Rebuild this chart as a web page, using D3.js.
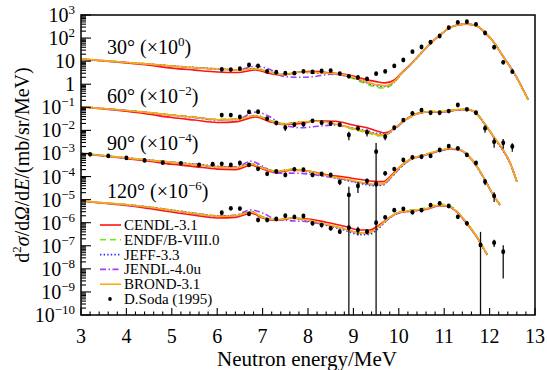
<!DOCTYPE html>
<html>
<head>
<meta charset="utf-8">
<script src="https://cdn.jsdelivr.net/npm/d3@7"></script>
<style>
body { margin: 0; background: #fff; }
svg text { font-family: "Liberation Serif", "DejaVu Serif", Times, serif; fill: #000; }
</style>
</head>
<body>
<svg id="canvas" width="547" height="370" font-family="Liberation Serif, DejaVu Serif, serif"></svg>
<script>
// evaluated libraries (curves), values already multiplied by the angle scale factor
let libNames = ['CENDL-3.1', 'ENDF/B-VIII.0', 'JEFF-3.3', 'JENDL-4.0u', 'BROND-3.1']

let e30 = [3.0,3.5,4.0,4.5,5.0,5.5,6.0,6.45,6.85,7.15,7.45,7.85,8.1,8.5,8.9,9.2,9.5,9.7,9.9,10.05,10.25,10.47,10.69,10.91,11.1,11.3,11.5,11.72,11.9,12.08,12.3,12.52,12.85]
let cendl30 = [12.2,10.2,8.3,6.6,5.0,4.1,3.4,3.2,4.2,2.9,2.5,3.5,3.6,3.1,2.5,1.75,1.3,1.15,1.55,3.0,7.0,20,57,135,262,368,402,333,172,71,16,3.6,0.22]
let endf30 = [12.6,10.6,8.9,7.5,6.2,5.3,4.7,4.2,4.7,3.4,2.7,3.4,3.3,2.9,2.1,1.2,0.75,0.68,1.2,2.7,6.6,19.5,57,134,262,368,405,336,174,72,16,3.6,0.21]
let jeff30 = [12.4,10.4,8.8,7.5,6.2,5.3,4.6,4.2,4.8,3.3,2.6,3.3,3.1,2.9,2.2,1.35,0.88,0.8,1.25,2.8,6.8,20,58,136,265,370,403,332,170,70,15.5,3.5,0.2]
let jendl30 = [12.3,10.3,8.7,7.4,6.1,5.2,4.5,4.2,6.0,4.5,2.2,2.0,2.1,2.7,2.2,1.4,0.95,0.85,1.3,2.8,6.7,20,58,134,262,368,402,333,171,70,15.6,3.5,0.21]
let brond30 = [12.5,10.5,8.8,7.4,6.1,5.2,4.6,4.1,4.6,3.3,2.6,3.4,3.2,3.0,2.3,1.45,0.95,0.85,1.3,2.8,6.8,20,58,136,265,370,405,333,171,70,15.6,3.5,0.21]

let e60 = [3.0,3.5,4.0,4.5,5.0,5.5,6.0,6.45,6.85,7.15,7.45,7.85,8.2,8.6,9.0,9.3,9.55,9.7,9.9,10.1,10.3,10.5,10.7,10.9,11.1,11.3,11.5,11.7,11.9,12.1,12.3,12.45,12.6]
let cendl60 = [0.104,0.085,0.068,0.050,0.036,0.028,0.022,0.024,0.038,0.024,0.018,0.020,0.026,0.025,0.017,0.013,0.009,0.0078,0.012,0.025,0.045,0.060,0.064,0.062,0.068,0.077,0.080,0.054,0.018,0.0049,0.0014,0.0004,0.00006]
let endf60 = [0.107,0.089,0.074,0.060,0.047,0.038,0.030,0.031,0.044,0.028,0.020,0.023,0.025,0.019,0.011,0.0080,0.0058,0.0062,0.012,0.025,0.045,0.062,0.067,0.066,0.072,0.081,0.084,0.057,0.019,0.0051,0.0014,0.0004,0.00006]
let jeff60 = [0.106,0.088,0.073,0.059,0.046,0.037,0.029,0.030,0.044,0.027,0.019,0.023,0.025,0.019,0.0125,0.0095,0.0072,0.0070,0.012,0.024,0.043,0.059,0.064,0.063,0.069,0.078,0.081,0.056,0.018,0.0048,0.0013,0.00038,0.00006]
let jendl60 = [0.105,0.087,0.072,0.058,0.045,0.036,0.028,0.031,0.062,0.040,0.017,0.013,0.015,0.017,0.012,0.0088,0.0065,0.0066,0.011,0.023,0.042,0.058,0.063,0.062,0.068,0.077,0.080,0.055,0.018,0.0048,0.0013,0.00038,0.00006]
let brond60 = [0.106,0.088,0.073,0.059,0.046,0.037,0.029,0.030,0.043,0.027,0.019,0.023,0.025,0.019,0.012,0.0088,0.0064,0.0066,0.012,0.024,0.043,0.060,0.065,0.064,0.070,0.079,0.082,0.055,0.018,0.0050,0.0014,0.0004,0.00006]

let e90 = [3.0,3.5,4.0,4.5,5.0,5.5,6.0,6.4,6.75,7.0,7.3,7.65,8.0,8.4,8.8,9.2,9.45,9.65,9.85,10.05,10.25,10.5,10.7,10.9,11.15,11.35,11.55,11.75,11.9,12.05,12.23]
let cendl90 = [1.0e-3,7.8e-4,6.0e-4,4.6e-4,3.4e-4,2.7e-4,2.1e-4,2.0e-4,3.1e-4,2.1e-4,1.5e-4,1.9e-4,1.75e-4,1.2e-4,9.5e-5,7.2e-5,6.2e-5,6.0e-5,1.2e-4,2.9e-4,5.6e-4,7.8e-4,1.0e-3,1.3e-3,1.6e-3,1.42e-3,7.3e-4,2.2e-4,7.0e-5,2.0e-5,5.8e-6]
let endf90 = [1.02e-3,8.1e-4,6.5e-4,5.2e-4,4.2e-4,3.4e-4,2.7e-4,2.5e-4,3.5e-4,2.4e-4,1.7e-4,2.1e-4,1.75e-4,1.1e-4,7.8e-5,5.3e-5,4.4e-5,4.6e-5,1.05e-4,2.7e-4,5.5e-4,8.1e-4,1.07e-3,1.38e-3,1.7e-3,1.48e-3,7.7e-4,2.3e-4,7.2e-5,2.1e-5,6.0e-6]
let jeff90 = [1.0e-3,8.0e-4,6.4e-4,5.2e-4,4.2e-4,3.5e-4,2.8e-4,2.6e-4,3.5e-4,2.4e-4,1.7e-4,2.0e-4,1.6e-4,1.05e-4,7.2e-5,4.8e-5,4.0e-5,4.3e-5,1.0e-4,2.6e-4,5.4e-4,7.8e-4,1.03e-3,1.33e-3,1.62e-3,1.43e-3,7.4e-4,2.2e-4,7.0e-5,2.0e-5,5.8e-6]
let jendl90 = [1.0e-3,8.0e-4,6.3e-4,5.0e-4,4.0e-4,3.3e-4,2.6e-4,2.6e-4,4.6e-4,2.8e-4,1.4e-4,1.4e-4,1.3e-4,1.0e-4,7.5e-5,5.2e-5,4.4e-5,4.6e-5,1.0e-4,2.6e-4,5.2e-4,7.5e-4,9.8e-4,1.25e-3,1.55e-3,1.38e-3,7.1e-4,2.1e-4,6.8e-5,2.0e-5,5.8e-6]
let brond90 = [1.0e-3,8.0e-4,6.4e-4,5.1e-4,4.1e-4,3.3e-4,2.6e-4,2.4e-4,3.4e-4,2.3e-4,1.65e-4,2.0e-4,1.7e-4,1.1e-4,8.0e-5,5.5e-5,4.6e-5,4.8e-5,1.1e-4,2.8e-4,5.6e-4,8.0e-4,1.05e-3,1.35e-3,1.65e-3,1.45e-3,7.5e-4,2.2e-4,7.0e-5,2.0e-5,5.8e-6]

let e120 = [3.0,3.5,4.0,4.5,5.0,5.5,6.0,6.4,6.75,7.0,7.3,7.65,8.0,8.4,8.8,9.15,9.35,9.55,9.8,10.0,10.3,10.6,10.9,11.1,11.3,11.5,11.7,11.85,11.95]
let cendl120 = [8.7e-6,7.0e-6,5.6e-6,4.1e-6,2.9e-6,2.1e-6,1.6e-6,1.7e-6,2.6e-6,1.6e-6,1.25e-6,1.55e-6,1.45e-6,1.05e-6,7.0e-7,4.8e-7,4.8e-7,7.5e-7,1.7e-6,2.7e-6,3.2e-6,3.8e-6,5.4e-6,4.9e-6,2.6e-6,9.0e-7,2.7e-7,8.8e-8,4e-8]
let endf120 = [8.9e-6,7.3e-6,6.1e-6,4.8e-6,3.5e-6,2.6e-6,2.0e-6,2.1e-6,3.0e-6,1.8e-6,1.35e-6,1.6e-6,1.3e-6,8.3e-7,5.3e-7,3.5e-7,3.7e-7,6.4e-7,1.7e-6,2.9e-6,3.6e-6,4.4e-6,6.4e-6,5.6e-6,2.9e-6,9.8e-7,2.9e-7,9.2e-8,4.1e-8]
let jeff120 = [8.8e-6,7.2e-6,6.0e-6,4.8e-6,3.5e-6,2.6e-6,2.0e-6,2.0e-6,2.9e-6,1.7e-6,1.3e-6,1.55e-6,1.2e-6,7.8e-7,4.8e-7,3.0e-7,3.1e-7,5.6e-7,1.6e-6,2.8e-6,3.4e-6,4.0e-6,5.7e-6,5.1e-6,2.7e-6,9.2e-7,2.7e-7,8.8e-8,4e-8]
let jendl120 = [8.7e-6,7.1e-6,5.9e-6,4.6e-6,3.3e-6,2.4e-6,1.9e-6,2.1e-6,3.6e-6,2.6e-6,1.4e-6,1.2e-6,1.1e-6,8.0e-7,5.4e-7,3.6e-7,3.8e-7,6.4e-7,1.6e-6,2.6e-6,3.2e-6,3.8e-6,5.5e-6,5.0e-6,2.7e-6,9.2e-7,2.7e-7,8.8e-8,4e-8]
let brond120 = [8.8e-6,7.2e-6,6.0e-6,4.7e-6,3.4e-6,2.5e-6,1.9e-6,2.0e-6,2.9e-6,1.7e-6,1.3e-6,1.6e-6,1.3e-6,8.5e-7,5.5e-7,3.6e-7,3.8e-7,6.5e-7,1.7e-6,2.8e-6,3.4e-6,4.0e-6,5.8e-6,5.2e-6,2.7e-6,9.5e-7,2.8e-7,9e-8,4e-8]

// D.Soda (1995) measurement: [energy, value, relative error]
let soda30 = [[6.1,4.4,0.12],[6.3,4.3,0.12],[6.5,4.7,0.12],[6.7,6.8,0.12],[6.9,6.3,0.12],[7.1,3.6,0.12],[7.3,3.3,0.12],[7.5,3.0,0.12],[7.7,3.0,0.12],[7.9,3.6,0.12],[8.1,3.4,0.12],[8.3,3.75,0.12],[8.5,3.9,0.12],[8.7,2.9,0.12],[8.9,2.2,0.12],[9.1,1.96,0.12],[9.3,1.7,0.12],[9.5,2.86,0.12],[9.7,3.6,0.12],[9.9,6.2,0.12],[10.1,11.2,0.12],[10.3,25.7,0.12],[10.5,41,0.12],[10.7,66,0.12],[10.9,123,0.12],[11.1,282,0.12],[11.3,483,0.12],[11.5,513,0.12],[11.7,395,0.12],[11.9,166,0.12],[12.1,40,0.12],[12.3,8.9,0.12],[12.5,3.5,0.12]]
let soda60 = [[6.1,0.046,0.15],[6.3,0.046,0.15],[6.5,0.038,0.15],[6.7,0.063,0.15],[6.9,0.065,0.15],[7.1,0.032,0.15],[7.3,0.021,0.2],[7.5,0.0133,0.3],[7.7,0.0176,0.2],[7.9,0.0184,0.2],[8.1,0.026,0.2],[8.3,0.0216,0.2],[8.5,0.0199,0.2],[8.7,0.0176,0.2],[8.9,0.0063,0.4],[9.1,0.0123,0.2],[9.3,0.0083,0.35],[9.5,0.0012,1.37],[9.7,0.0053,0.3],[9.9,0.013,0.2],[10.1,0.028,0.15],[10.3,0.055,0.15],[10.5,0.076,0.15],[10.7,0.058,0.12],[10.9,0.058,0.12],[11.1,0.069,0.12],[11.3,0.126,0.15],[11.5,0.082,0.15],[11.7,0.058,0.2],[11.9,0.0123,0.35],[12.1,0.0032,0.45],[12.3,0.0029,0.45],[12.5,0.002,0.4]]
let soda90 = [[3.2,9.2e-4,0.12],[3.6,7.8e-4,0.12],[4.0,6.4e-4,0.12],[4.4,5.0e-4,0.12],[4.8,4.0e-4,0.12],[5.2,3.75e-4,0.12],[5.6,3.2e-4,0.12],[5.9,3.4e-4,0.12],[6.1,3.56e-4,0.12],[6.3,3.2e-4,0.12],[6.5,3.86e-4,0.12],[6.7,3.2e-4,0.15],[6.9,2.16e-4,0.15],[7.1,1.31e-4,0.15],[7.3,1.65e-4,0.15],[7.5,1.17e-4,0.2],[7.7,2.06e-4,0.15],[7.9,1.98e-4,0.15],[8.1,1.17e-4,0.2],[8.3,1.29e-4,0.2],[8.5,1.17e-4,0.2],[8.7,5.8e-5,0.25],[8.9,1.6e-5,1.27],[9.1,3.9e-5,0.5],[9.3,6.4e-5,0.25],[9.5,4.75e-5,0.25],[9.7,1.38e-4,0.2],[9.9,2.1e-4,0.15],[10.1,5.2e-4,0.12],[10.3,6.8e-4,0.12],[10.5,7.2e-4,0.12],[10.7,7.8e-4,0.12],[10.9,1.41e-3,0.12],[11.1,2.1e-3,0.12],[11.3,1.67e-3,0.12],[11.5,8.6e-4,0.15],[11.7,3.86e-4,0.2],[11.9,6.0e-5,0.3],[12.1,1.44e-5,0.45]]
let soda120 = [[6.1,2.7e-6,0.15],[6.3,4.2e-6,0.15],[6.5,4.1e-6,0.15],[6.7,2.4e-6,0.15],[6.9,1.31e-6,0.15],[7.1,1.31e-6,0.15],[7.3,1.45e-6,0.15],[7.5,2.0e-6,0.15],[7.7,1.77e-6,0.15],[7.9,1.95e-6,0.15],[8.1,9.4e-7,0.2],[8.3,7.9e-7,0.2],[8.5,5.7e-7,0.2],[8.7,4.1e-7,0.2],[8.9,6.1e-7,0.2],[9.1,4.8e-7,0.4],[9.3,4.1e-7,0.25],[9.5,1.0e-6,0.2],[9.7,1.71e-6,0.15],[9.9,3.5e-6,0.15],[10.1,4.0e-6,0.15],[10.3,2.8e-6,0.15],[10.5,3.5e-6,0.15],[10.7,5.8e-6,0.15],[10.9,6.9e-6,0.15],[11.1,5.3e-6,0.15],[11.3,1.8e-6,0.15],[11.5,9.4e-7,0.2],[11.8,1.08e-7,2.7],[12.1,1.36e-7,0.35],[12.3,5.5e-8,0.93]]

let angleNames = ['30°', '60°', '90°', '120°']
let angleExps = ['0', '\u22122', '\u22124', '\u22126']

let xTicks = [3, 4, 5, 6, 7, 8, 9, 10, 11, 12, 13]
let yExps = [3, 2, 1, 0, -1, -2, -3, -4, -5, -6, -7, -8, -9, -10]

// styles
let serif = 'Liberation Serif, DejaVu Serif, serif'
let libColors = ['#ff1414', '#66f000', '#1f2dff', '#a040ff', '#ffaa10']
let libDash = [null, '6,4', '1.4,2.2', '6,2.5,1.5,2.5', null]

let curveSets = [
    [e30, [cendl30, endf30, jeff30, jendl30, brond30]],
    [e60, [cendl60, endf60, jeff60, jendl60, brond60]],
    [e90, [cendl90, endf90, jeff90, jendl90, brond90]],
    [e120, [cendl120, endf120, jeff120, jendl120, brond120]]
]
let sodaSets = [soda30, soda60, soda90, soda120]

let canvas = d3.select('#canvas')
let plotLeft = 81, plotRight = 535, plotTop = 15, plotBottom = 315

let xScale = d3.scaleLinear().domain([3, 13]).range([plotLeft, plotRight])
let yScale = d3.scaleLog().domain([1e-10, 1e3]).range([plotBottom, plotTop])

canvas.append('defs').append('clipPath').attr('id', 'plotClip')
    .append('rect')
    .attr('x', plotLeft).attr('y', plotTop)
    .attr('width', plotRight - plotLeft).attr('height', plotBottom - plotTop)

let plot = canvas.append('g').attr('clip-path', 'url(#plotClip)')

let lineGen = d3.line()
    .x((d) => xScale(d[0]))
    .y((d) => yScale(d[1]))
    .curve(d3.curveMonotoneX)

// curves, library by library so BROND ends up on top
libNames.forEach((name, li) => {
    curveSets.forEach((set) => {
        let energies = set[0]
        let values = set[1][li]
        let pts = energies.map((e, i) => [e, values[i]])
        plot.append('path')
            .attr('d', lineGen(pts))
            .attr('fill', 'none')
            .attr('stroke', libColors[li])
            .attr('stroke-width', 1.6)
            .attr('stroke-dasharray', libDash[li])
    })
})

// measured points with error bars
sodaSets.forEach((set) => {
    plot.selectAll(null)
        .data(set)
        .enter()
        .append('line')
        .attr('x1', (d) => xScale(d[0]))
        .attr('x2', (d) => xScale(d[0]))
        .attr('y1', (d) => yScale(d[1] * (1 + d[2])))
        .attr('y2', (d) => {
            let low = d[1] * (1 - d[2])
            return low > 1e-11 ? yScale(low) : plotBottom + 5
        })
        .attr('stroke', '#111')
        .attr('stroke-width', 1.3)
    plot.selectAll(null)
        .data(set)
        .enter()
        .append('ellipse')
        .attr('cx', (d) => xScale(d[0]))
        .attr('cy', (d) => yScale(d[1]))
        .attr('rx', 2)
        .attr('ry', 2.4)
        .attr('fill', '#000')
})

// ticks (inward)
let yMinor = []
for (let p = -10; p < 3; p++) {
    for (let m = 2; m < 10; m++) yMinor.push(m * Math.pow(10, p))
}
let xMinor = d3.range(30, 131, 2).filter((v) => v % 10 !== 0).map((v) => v / 10)

let tickGroup = canvas.append('g').attr('stroke', '#000').attr('stroke-width', 1.1)
yExps.forEach((p) => {
    let y = yScale(Math.pow(10, p))
    tickGroup.append('line').attr('x1', plotLeft).attr('x2', plotLeft + 10).attr('y1', y).attr('y2', y)
})
yMinor.forEach((v) => {
    let y = yScale(v)
    tickGroup.append('line').attr('x1', plotLeft).attr('x2', plotLeft + 5).attr('y1', y).attr('y2', y)
})
xTicks.forEach((v) => {
    let x = xScale(v)
    tickGroup.append('line').attr('x1', x).attr('x2', x).attr('y1', plotBottom).attr('y2', plotBottom - 7)
})
xMinor.forEach((v) => {
    let x = xScale(v)
    tickGroup.append('line').attr('x1', x).attr('x2', x).attr('y1', plotBottom).attr('y2', plotBottom - 3.5)
})

// frame
canvas.append('rect')
    .attr('x', plotLeft).attr('y', plotTop)
    .attr('width', plotRight - plotLeft).attr('height', plotBottom - plotTop)
    .attr('fill', 'none')
    .attr('stroke', '#000')
    .attr('stroke-width', 1.5)

// tick labels
canvas.selectAll('.xlab')
    .data(xTicks)
    .enter()
    .append('text')
    .attr('x', (d) => xScale(d))
    .attr('y', 343)
    .attr('text-anchor', 'middle')
    .attr('font-family', serif)
    .attr('font-size', 20)
    .text((d) => d)

yExps.forEach((p) => {
    let t = canvas.append('text')
        .attr('x', 75)
        .attr('y', yScale(Math.pow(10, p)) + 7)
        .attr('text-anchor', 'end')
        .attr('font-family', serif)
        .attr('font-size', 20)
    if (p === 0) {
        t.text('1')
    } else if (p === 1) {
        t.text('10')
    } else {
        t.append('tspan').text('10')
        t.append('tspan')
            .attr('dy', -8)
            .attr('font-size', 13)
            .text(p < 0 ? '\u2212' + (-p) : String(p))
    }
})

// axis titles
canvas.append('text')
    .attr('x', 307)
    .attr('y', 366)
    .attr('text-anchor', 'middle')
    .attr('font-family', serif)
    .attr('font-size', 21)
    .text('Neutron energy/MeV')

let yTitle = canvas.append('text')
    .attr('transform', 'translate(29,165) rotate(-90)')
    .attr('text-anchor', 'middle')
    .attr('font-family', serif)
    .attr('font-size', 20)
yTitle.append('tspan').text('d')
yTitle.append('tspan').attr('dy', -8).attr('font-size', 13).text('2')
yTitle.append('tspan').attr('dy', 8).attr('font-style', 'italic').text('σ')
yTitle.append('tspan').text('/d')
yTitle.append('tspan').attr('font-style', 'italic').text('Ω')
yTitle.append('tspan').text('/d')
yTitle.append('tspan').attr('font-style', 'italic').text('E')
yTitle.append('tspan').text('/(mb/sr/MeV)')

// angle annotations
let annY = [54, 103, 150, 198]
angleNames.forEach((name, i) => {
    let t = canvas.append('text')
        .attr('x', 107)
        .attr('y', annY[i])
        .attr('font-family', serif)
        .attr('font-size', 20)
    t.append('tspan').text(name + ' (\u00d710')
    t.append('tspan').attr('dy', -8).attr('font-size', 13).text(angleExps[i])
    t.append('tspan').attr('dy', 8).text(')')
})

// legend
let legend = canvas.append('g')
libNames.forEach((name, i) => {
    let y = 225 + i * 14.8
    legend.append('line')
        .attr('x1', 100).attr('x2', 121)
        .attr('y1', y).attr('y2', y)
        .attr('stroke', libColors[i])
        .attr('stroke-width', 1.6)
        .attr('stroke-dasharray', libDash[i])
    legend.append('text')
        .attr('x', 124)
        .attr('y', y + 5)
        .attr('font-family', serif)
        .attr('font-size', 15)
        .text(name)
})
legend.append('ellipse')
    .attr('cx', 110).attr('cy', 225 + 5 * 14.8)
    .attr('rx', 1.8).attr('ry', 2)
    .attr('fill', '#000')
legend.append('text')
    .attr('x', 124)
    .attr('y', 225 + 5 * 14.8 + 5)
    .attr('font-family', serif)
    .attr('font-size', 15)
    .text('D.Soda (1995)')
</script>
</body>
</html>
